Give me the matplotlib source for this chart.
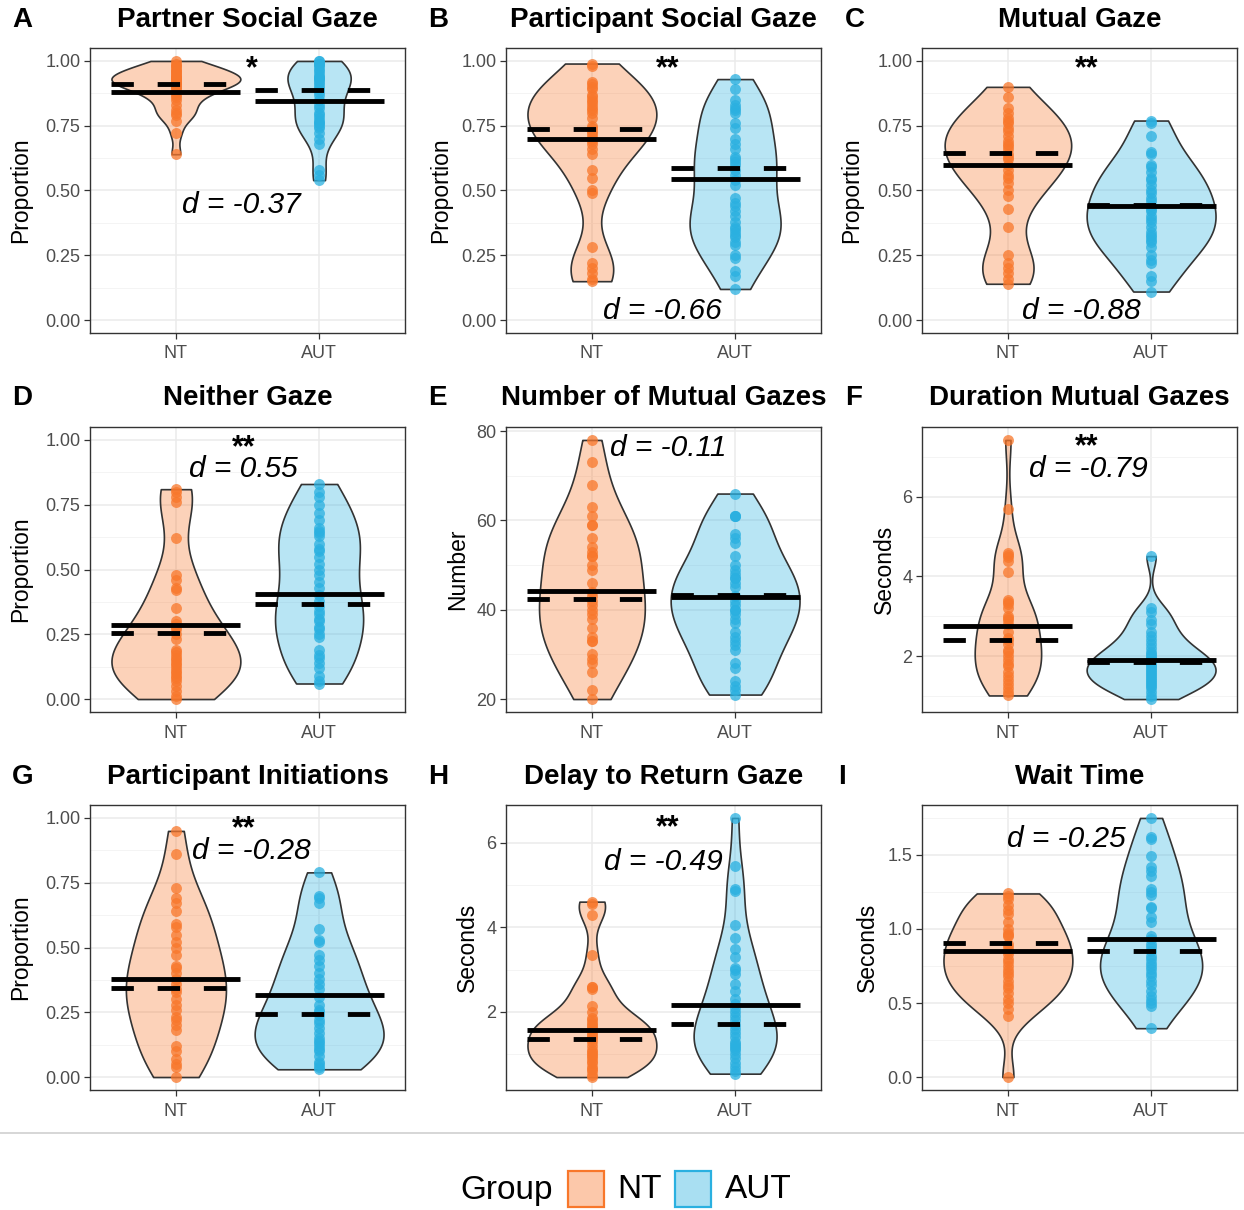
import numpy as np
import matplotlib
matplotlib.use("Agg")
import matplotlib.pyplot as plt
import matplotlib.colors as mcolors
from matplotlib import cbook, mlab
from matplotlib.patches import Rectangle
from matplotlib.lines import Line2D
from matplotlib.ticker import AutoMinorLocator, FixedLocator

plt.rcParams['font.family'] = ['Liberation Sans', 'DejaVu Sans']

# panel titles / labels
letters = ["A", "B", "C", "D", "E", "F", "G", "H", "I"]
titles = ["Partner Social Gaze", "Participant Social Gaze", "Mutual Gaze",
          "Neither Gaze", "Number of Mutual Gazes", "Duration Mutual Gazes",
          "Participant Initiations", "Delay to Return Gaze", "Wait Time"]
ylabels = ["Proportion", "Proportion", "Proportion", "Proportion", "Number",
           "Seconds", "Proportion", "Seconds", "Seconds"]
groups = ["NT", "AUT"]
stars = ["*", "**", "**", "**", "", "**", "**", "**", ""]
d_labels = ["d = -0.37", "d = -0.66", "d = -0.88", "d = 0.55", "d = -0.11",
            "d = -0.79", "d = -0.28", "d = -0.49", "d = -0.25"]

# individual values (NT, AUT)
nt_a = [1.00, 0.99, 0.98, 0.98, 0.97, 0.96, 0.96, 0.95, 0.95, 0.94, 0.94, 0.93, 0.93, 0.93,
        0.92, 0.92, 0.92, 0.91, 0.91, 0.90, 0.90, 0.89, 0.88, 0.87, 0.86, 0.85, 0.83, 0.81,
        0.80, 0.79, 0.77, 0.72, 0.64]
aut_a = [1.00, 1.00, 0.99, 0.99, 0.98, 0.97, 0.96, 0.95, 0.94, 0.94, 0.93, 0.93, 0.92, 0.91,
         0.90, 0.89, 0.88, 0.87, 0.85, 0.83, 0.82, 0.80, 0.79, 0.78, 0.77, 0.76, 0.76, 0.75,
         0.74, 0.72, 0.70, 0.68, 0.58, 0.56, 0.54]
nt_b = [0.99, 0.98, 0.92, 0.91, 0.90, 0.89, 0.87, 0.86, 0.85, 0.84, 0.83, 0.82, 0.81, 0.80,
        0.78, 0.75, 0.74, 0.73, 0.72, 0.71, 0.70, 0.69, 0.68, 0.66, 0.64, 0.58, 0.55, 0.50,
        0.49, 0.28, 0.22, 0.20, 0.18, 0.16, 0.15]
aut_b = [0.93, 0.89, 0.85, 0.83, 0.82, 0.81, 0.80, 0.76, 0.74, 0.70, 0.68, 0.66, 0.63, 0.62,
         0.61, 0.60, 0.58, 0.56, 0.54, 0.52, 0.47, 0.45, 0.44, 0.42, 0.40, 0.38, 0.36, 0.35,
         0.34, 0.33, 0.32, 0.30, 0.29, 0.25, 0.24, 0.19, 0.17, 0.12]
nt_c = [0.90, 0.86, 0.82, 0.80, 0.78, 0.77, 0.76, 0.74, 0.73, 0.71, 0.69, 0.68, 0.67, 0.66,
        0.64, 0.63, 0.62, 0.60, 0.58, 0.56, 0.55, 0.53, 0.50, 0.48, 0.43, 0.36, 0.25, 0.22,
        0.20, 0.18, 0.16, 0.14]
aut_c = [0.77, 0.76, 0.71, 0.65, 0.64, 0.60, 0.59, 0.57, 0.55, 0.54, 0.52, 0.50, 0.49, 0.47,
         0.46, 0.44, 0.43, 0.42, 0.40, 0.39, 0.38, 0.36, 0.34, 0.33, 0.32, 0.31, 0.30, 0.28,
         0.25, 0.23, 0.22, 0.17, 0.15, 0.11]
nt_d = [0.81, 0.80, 0.78, 0.76, 0.62, 0.48, 0.46, 0.43, 0.42, 0.35, 0.30, 0.29, 0.28, 0.27,
        0.25, 0.23, 0.19, 0.18, 0.17, 0.16, 0.15, 0.14, 0.13, 0.12, 0.11, 0.10, 0.09, 0.08,
        0.07, 0.05, 0.03, 0.01, 0.00]
aut_d = [0.83, 0.80, 0.78, 0.75, 0.72, 0.69, 0.66, 0.65, 0.64, 0.63, 0.60, 0.58, 0.57, 0.55,
         0.52, 0.50, 0.48, 0.45, 0.43, 0.40, 0.38, 0.36, 0.34, 0.33, 0.31, 0.30, 0.28, 0.27,
         0.25, 0.24, 0.19, 0.17, 0.16, 0.14, 0.12, 0.09, 0.07, 0.06]
nt_e = [78, 73, 68, 63, 61, 59, 59, 56, 54, 53, 52, 52, 50, 49, 46, 44, 43, 42, 41, 40, 39,
        38, 36, 34, 33, 33, 30, 29, 28, 26, 22, 20]
aut_e = [66, 61, 61, 61, 57, 56, 55, 52, 50, 49, 48, 47, 47, 46, 45, 43, 42, 41, 40, 40, 39,
         38, 37, 35, 34, 33, 32, 31, 28, 27, 24, 23, 22, 21]
nt_f = [7.42, 5.70, 4.60, 4.55, 4.50, 4.40, 4.10, 3.40, 3.35, 3.30, 3.20, 3.00, 2.95, 2.90,
        2.80, 2.60, 2.45, 2.40, 2.30, 2.15, 2.10, 2.00, 1.90, 1.80, 1.75, 1.60, 1.50, 1.40,
        1.30, 1.20, 1.10, 1.02]
aut_f = [4.51, 3.20, 3.10, 2.90, 2.80, 2.60, 2.50, 2.40, 2.30, 2.20, 2.10, 2.05, 2.00, 1.95,
         1.90, 1.85, 1.80, 1.75, 1.70, 1.65, 1.60, 1.55, 1.50, 1.45, 1.40, 1.35, 1.30, 1.25,
         1.20, 1.10, 1.00, 0.93]
nt_g = [0.95, 0.86, 0.73, 0.69, 0.67, 0.64, 0.59, 0.58, 0.55, 0.52, 0.50, 0.47, 0.43, 0.42,
        0.40, 0.38, 0.36, 0.34, 0.33, 0.30, 0.28, 0.26, 0.23, 0.22, 0.20, 0.18, 0.12, 0.10,
        0.07, 0.05, 0.04, 0.00]
aut_g = [0.79, 0.70, 0.69, 0.67, 0.57, 0.53, 0.52, 0.47, 0.45, 0.43, 0.40, 0.38, 0.36, 0.34,
         0.31, 0.28, 0.26, 0.25, 0.24, 0.22, 0.21, 0.19, 0.17, 0.15, 0.14, 0.13, 0.12, 0.11,
         0.10, 0.08, 0.06, 0.05, 0.04, 0.03]
nt_h = [4.61, 4.55, 4.30, 3.35, 2.60, 2.58, 2.55, 2.15, 2.00, 1.85, 1.80, 1.75, 1.70, 1.65,
        1.60, 1.50, 1.45, 1.40, 1.35, 1.30, 1.20, 1.10, 1.05, 1.00, 0.95, 0.90, 0.85, 0.80,
        0.70, 0.65, 0.60, 0.50, 0.46]
aut_h = [6.59, 5.45, 4.90, 4.85, 4.05, 3.75, 3.50, 3.30, 3.05, 3.00, 2.90, 2.65, 2.50, 2.30,
         2.20, 2.10, 2.00, 1.90, 1.80, 1.70, 1.60, 1.50, 1.40, 1.30, 1.25, 1.20, 1.15, 1.10,
         1.00, 0.90, 0.80, 0.70, 0.60, 0.54]
nt_i = [1.24, 1.22, 1.20, 1.16, 1.13, 1.10, 1.05, 1.00, 0.97, 0.96, 0.95, 0.90, 0.88, 0.85,
        0.83, 0.80, 0.78, 0.75, 0.72, 0.70, 0.68, 0.65, 0.62, 0.60, 0.57, 0.53, 0.50, 0.46,
        0.41, 0.00]
aut_i = [1.75, 1.62, 1.61, 1.49, 1.42, 1.39, 1.36, 1.27, 1.25, 1.23, 1.15, 1.14, 1.08, 1.05,
         0.95, 0.93, 0.90, 0.88, 0.85, 0.82, 0.80, 0.77, 0.75, 0.73, 0.70, 0.68, 0.65, 0.62,
         0.58, 0.55, 0.52, 0.50, 0.48, 0.33]

nt_data = [nt_a, nt_b, nt_c, nt_d, nt_e, nt_f, nt_g, nt_h, nt_i]
aut_data = [aut_a, aut_b, aut_c, aut_d, aut_e, aut_f, aut_g, aut_h, aut_i]

# group means (solid) and medians (dashed) as drawn
means_nt = [0.881, 0.697, 0.597, 0.284, 44.1, 2.76, 0.380, 1.58, 0.852]
medians_nt = [0.912, 0.738, 0.643, 0.253, 42.3, 2.40, 0.345, 1.37, 0.904]
means_aut = [0.846, 0.543, 0.439, 0.407, 42.8, 1.91, 0.316, 2.16, 0.930]
medians_aut = [0.886, 0.588, 0.445, 0.367, 43.4, 1.87, 0.242, 1.71, 0.848]

# y ticks per panel
yticks = [[0, 0.25, 0.5, 0.75, 1.0]] * 4 + [[20, 40, 60, 80], [2, 4, 6],
                                            [0, 0.25, 0.5, 0.75, 1.0], [2, 4, 6],
                                            [0, 0.5, 1.0, 1.5]]
yfmt = ["{:.2f}"] * 4 + ["{:.0f}", "{:.0f}", "{:.2f}", "{:.0f}", "{:.1f}"]

NT_COL = "#F8772B"
AUT_COL = "#2AB0E0"
cols = [NT_COL, AUT_COL]

W, H = 1244, 1210
fig = plt.figure(figsize=(W / 100, H / 100), dpi=100)


def kde_nrd0(x, coords):
    # gaussian kde with R's default bandwidth (bw.nrd0)
    x = np.asarray(x, dtype=float)
    sd = x.std(ddof=1)
    q75, q25 = np.percentile(x, [75, 25])
    bw = 0.9 * min(sd, (q75 - q25) / 1.34) * len(x) ** -0.2
    kde = mlab.GaussianKDE(x, bw_method=bw / sd)
    return kde.evaluate(coords)


# layout in pixels
col_left = [90, 506, 922]
row_top = [48, 427, 805]
ax_w, ax_h = 315, 285
title_y = [20, 398, 777]
letter_x = [12, 428, 845, 12, 428, 845, 12, 428, 838]
ylab_off = [58, 54, 59, 58, 37, 26, 58, 27, 43]
star_pos = [(1.53, 1.00), (1.53, 1.00), (1.55, 1.00), (1.47, 1.00), None,
            (1.55, 7.45), (1.47, 0.99), (1.53, 6.54), None]
d_pos = [(1.46, 0.45), (1.49, 0.04), (1.51, 0.04), (1.47, 0.895), (1.53, 76.6),
         (1.56, 6.73), (1.53, 0.876), (1.50, 5.59), (1.41, 1.62)]

for i in range(9):
    r, c = divmod(i, 3)
    left, top = col_left[c], row_top[r]
    ax = fig.add_axes([left / W, 1 - (top + ax_h) / H, ax_w / W, ax_h / H])
    ax.set_axisbelow(True)

    data = [nt_data[i], aut_data[i]]
    stats = cbook.violin_stats(data, kde_nrd0, points=512)
    peaks = np.array([s['vals'].max() for s in stats])
    widths = 0.9 * peaks / peaks.max()
    parts = ax.violin(stats, positions=[1, 2], widths=widths, showextrema=False)
    for body, col in zip(parts['bodies'], cols):
        body.set_alpha(None)
        body.set_facecolor(mcolors.to_rgba(col, 0.33))
        body.set_edgecolor("#333333")
        body.set_linewidth(1.2)
        body.set_zorder(2)

    for pos, vals, col in zip([1, 2], data, cols):
        ax.scatter(np.full(len(vals), pos), vals, s=62, color=col, alpha=0.75,
                   linewidths=0, zorder=3)

    for pos, mn, md in zip([1, 2], [means_nt[i], means_aut[i]],
                           [medians_nt[i], medians_aut[i]]):
        ax.hlines([mn], pos - 0.45, pos + 0.45, colors="black", linewidth=3.5,
                  zorder=4).set_capstyle("butt")
        ax.hlines([md], pos - 0.45, pos + 0.45, colors="black", linewidth=3.5,
                  linestyles=[(0, (4.6, 4.9))], zorder=4).set_capstyle("butt")

    ax.set_xlim(0.4, 2.6)
    if ylabels[i] == "Proportion":
        ax.set_ylim(-0.05, 1.05)
    else:
        lo = min(min(nt_data[i]), min(aut_data[i]))
        hi = max(max(nt_data[i]), max(aut_data[i]))
        pad = 0.05 * (hi - lo)
        ax.set_ylim(lo - pad, hi + pad)

    ax.set_xticks([1, 2], groups)
    ax.yaxis.set_major_locator(FixedLocator(yticks[i]))
    ax.set_yticklabels([yfmt[i].format(t) for t in yticks[i]])
    ax.yaxis.set_minor_locator(AutoMinorLocator(2))
    ax.tick_params(which="major", direction="out", length=4, width=0.9,
                   color="#333333", labelcolor="#4D4D4D", labelsize=13, pad=3)
    ax.tick_params(axis="x", which="major", pad=5)
    ax.tick_params(which="minor", length=0)
    ax.grid(True, which="major", color="#EBEBEB", linewidth=1.1)
    ax.grid(True, which="minor", axis="y", color="#F2F2F2", linewidth=0.6)
    for sp in ax.spines.values():
        sp.set_color("#333333")
        sp.set_linewidth(1.0)

    ax.set_ylabel(ylabels[i], fontsize=16.5, color="black")
    ax.yaxis.set_label_coords(-ylab_off[i] / ax_w, 0.5)

    if star_pos[i] is not None:
        ax.annotate(stars[i], star_pos[i], xytext=(0, -6), textcoords="offset points",
                    ha="center", va="center", fontsize=22, fontweight="bold", zorder=5)
    ax.annotate(d_labels[i], d_pos[i], xytext=(0, -1), textcoords="offset points",
                ha="center", va="center", fontsize=21.5, style="italic", zorder=5)

    fig.text((left + ax_w / 2) / W, 1 - title_y[r] / H, titles[i], ha="center",
             va="center", fontsize=20, fontweight="bold")
    fig.text(letter_x[i] / W, 1 - title_y[r] / H, letters[i], ha="left",
             va="center", fontsize=20, fontweight="bold")

# separator and legend
fig.add_artist(Line2D([0, 1], [1 - 1133 / H] * 2, transform=fig.transFigure,
                      color="#D0D0D0", linewidth=1.2))
leg_y = 1 - 1190 / H
fig.text(460 / W, leg_y, "Group", ha="left", va="center", fontsize=24)
for x0, col, lab, tx in [(568, NT_COL, "NT", 617), (675, AUT_COL, "AUT", 725)]:
    fig.add_artist(Rectangle((x0 / W, 1 - 1207 / H), 36 / W, 36 / H,
                             transform=fig.transFigure,
                             facecolor=mcolors.to_rgba(col, 0.4),
                             edgecolor=col, linewidth=1.6))
    fig.text(tx / W, leg_y, lab, ha="left", va="center", fontsize=24)

fig.savefig("out.png", dpi=100)
